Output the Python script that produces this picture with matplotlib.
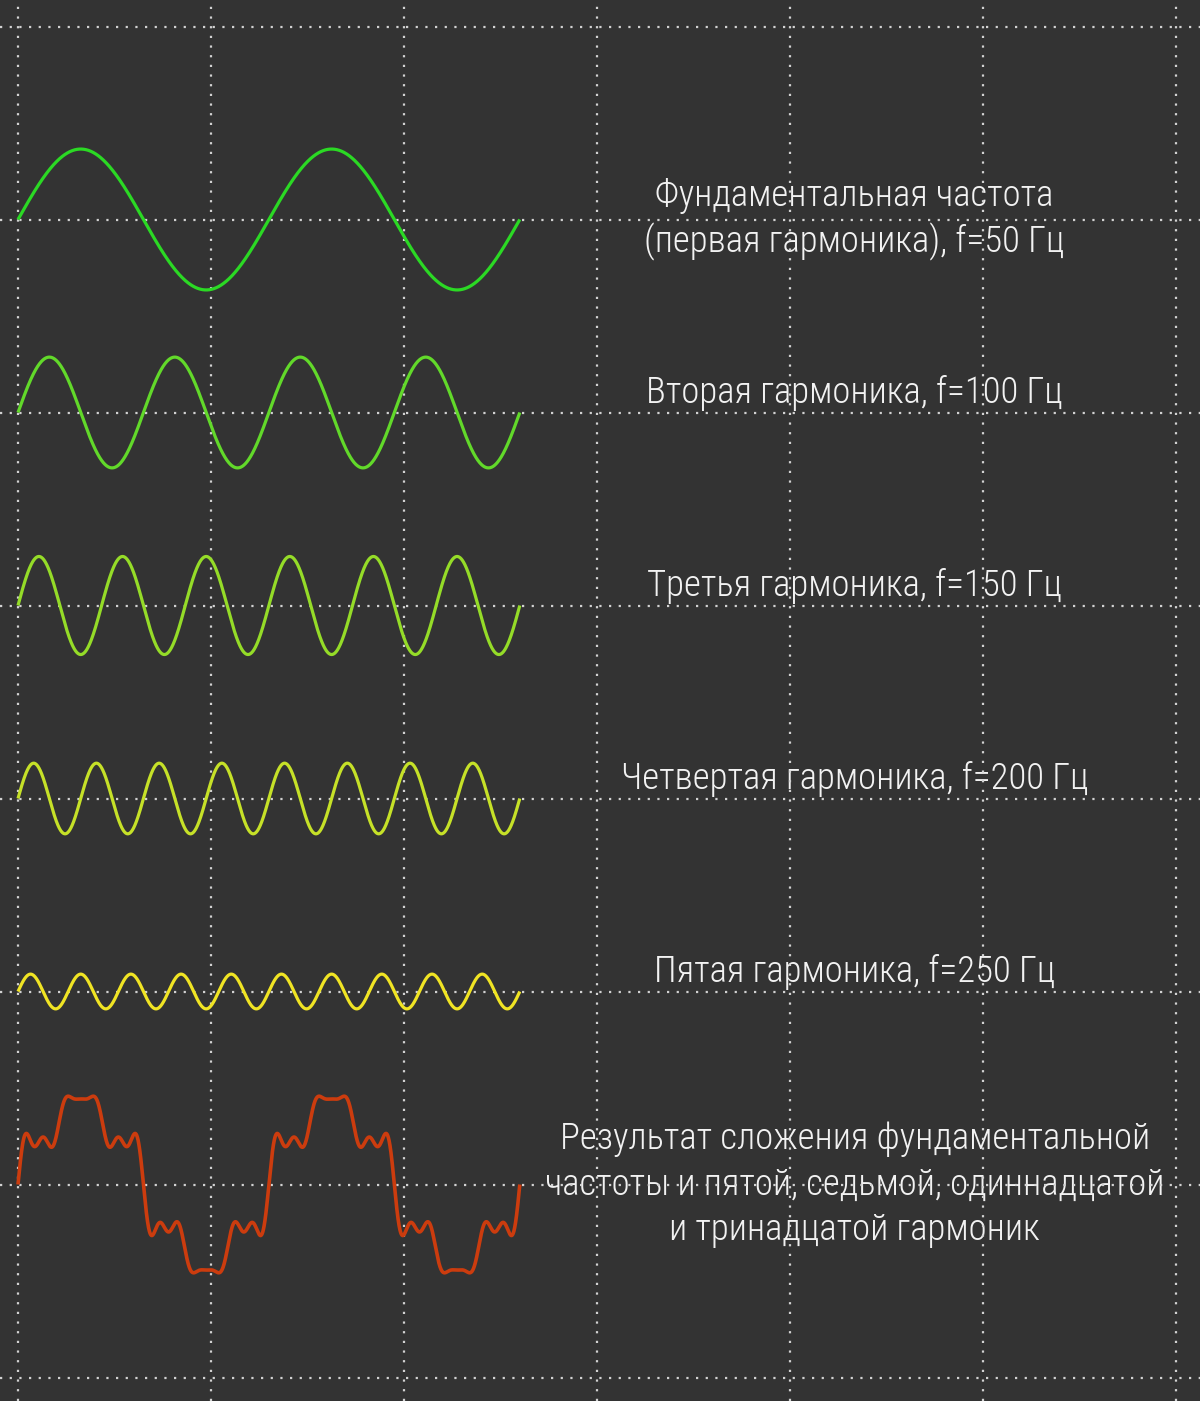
import numpy as np
import matplotlib
matplotlib.use("Agg")
import matplotlib.pyplot as plt

# --- data -------------------------------------------------------------
fundamental_hz = 50
periods_shown = 2

# individual harmonics: order, amplitude (grid divisions), colour, label
harmonic_orders = [1, 2, 3, 4, 5]
harmonic_amplitudes = [0.365, 0.287, 0.254, 0.183, 0.090]
harmonic_colors = ["#2bd924", "#62d92a", "#95dc28", "#c6e128", "#f0e424"]
harmonic_labels = [
    "Фундаментальная частота\n(первая гармоника), f=50 Гц",
    "Вторая гармоника, f=100 Гц",
    "Третья гармоника, f=150 Гц",
    "Четвертая гармоника, f=200 Гц",
    "Пятая гармоника, f=250 Гц",
]

# composite signal: fundamental + 5th, 7th, 11th, 13th harmonics
sum_orders = [1, 5, 7, 11, 13]
sum_rel_amplitudes = [1.0, 0.2, 0.143, 0.091, 0.077]
sum_scale = 0.425
sum_color = "#cc3c0e"
sum_label = ("Результат сложения фундаментальной\n"
             "частоты и пятой, седьмой, одиннадцатой\n"
             "и тринадцатой гармоник")

# --- layout -----------------------------------------------------------
W, H, DPI = 1200, 1401, 100
DIV = 193.0          # grid division, px
X0, Y0 = 18.0, 26.5  # first grid line, px
WAVE_SPAN = 2.6      # divisions covered by the waveforms
TEXT_X = 4.335       # text centre, divisions

bg = "#333333"
grid_col = "#d2d2d2"

fig = plt.figure(figsize=(W / DPI, H / DPI), dpi=DPI, facecolor=bg)
ax = fig.add_axes([0, 0, 1, 1])
ax.set_facecolor(bg)
ax.set_xlim(-X0 / DIV, (W - X0) / DIV)
ax.set_ylim((H - Y0) / DIV, -Y0 / DIV)
ax.axis("off")

# dotted oscilloscope grid
for gx in range(0, 7):
    ax.axvline(gx, color=grid_col, lw=1.6, dashes=(1, 3.35),
               dash_capstyle="butt", zorder=2)
for gy in range(0, 8):
    ax.axhline(gy, color=grid_col, lw=1.6, dashes=(1, 3.35),
               dash_capstyle="butt", zorder=2)

# time axis: two periods of the fundamental
period_ms = 1000.0 / fundamental_hz
t = np.linspace(0, periods_shown * period_ms, 4000)
x = t / (periods_shown * period_ms) * WAVE_SPAN
phase = 2 * np.pi * t / period_ms

font = dict(family=["Roboto Condensed", "Roboto", "DejaVu Sans"],
            fontweight="light", fontstretch="condensed",
            color="#f2f2f2", fontsize=26.5, ha="center", va="center",
            zorder=1)

for i, (n, a, c, lab) in enumerate(zip(harmonic_orders, harmonic_amplitudes,
                                       harmonic_colors, harmonic_labels)):
    base = i + 1
    y = a * np.sin(n * phase)
    ax.plot(x, base - y, color=c, lw=2.3, solid_capstyle="butt", zorder=3)
    if "\n" in lab:
        ax.text(TEXT_X, base, lab, linespacing=1.31, **font)
    else:
        ax.text(TEXT_X, base - 0.1, lab, **font)

base = 6
ysum = sum(r * np.sin(n * phase) for n, r in zip(sum_orders, sum_rel_amplitudes))
ax.plot(x, base - sum_scale * ysum, color=sum_color, lw=2.6,
        solid_capstyle="butt", zorder=3)
ax.text(TEXT_X, base, sum_label, linespacing=1.33, **font)

fig.savefig("out.png", dpi=DPI, facecolor=bg)
